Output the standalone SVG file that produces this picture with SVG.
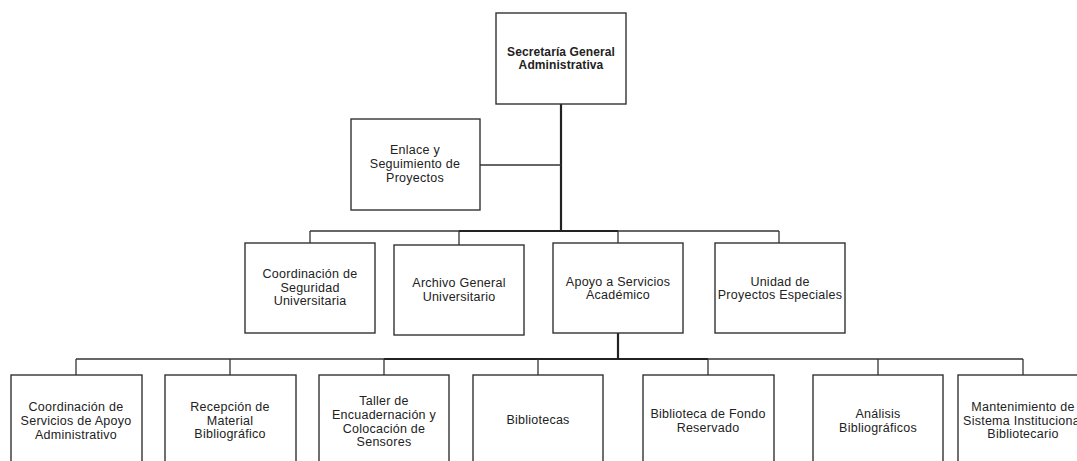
<svg xmlns="http://www.w3.org/2000/svg" width="1077" height="461" viewBox="0 0 1077 461">
<style>
.box{fill:#fff;stroke:#333;stroke-width:1.4}
.t{font-family:"Liberation Sans",Arial,sans-serif;font-size:12.5px;letter-spacing:0.25px;fill:#222;text-anchor:middle}
.b{font-weight:bold;font-size:12px;letter-spacing:0.1px}
.ln{stroke:#333;stroke-width:1.3;fill:none}
.tk{stroke:#222;stroke-width:2.2;fill:none}
</style>
<rect x="0" y="0" width="1077" height="461" fill="#fff"/>
<g id="connectors">
<line class="tk" x1="561" y1="104" x2="561" y2="231"/>
<line class="ln" x1="480" y1="165" x2="561" y2="165"/>
<line class="ln" x1="310" y1="231" x2="779" y2="231"/>
<line class="tk" x1="459" y1="231" x2="618" y2="231"/>
<line class="ln" x1="310" y1="231" x2="310" y2="243"/>
<line class="ln" x1="459" y1="231" x2="459" y2="245"/>
<line class="ln" x1="618" y1="231" x2="618" y2="243"/>
<line class="ln" x1="779" y1="231" x2="779" y2="243"/>
<line class="tk" x1="618" y1="333" x2="618" y2="359"/>
<line class="ln" x1="76" y1="359" x2="1023" y2="359"/>
<line class="tk" x1="384" y1="359" x2="708" y2="359"/>
<line class="ln" x1="76" y1="359" x2="76" y2="375"/>
<line class="ln" x1="230" y1="359" x2="230" y2="375"/>
<line class="ln" x1="384" y1="359" x2="384" y2="375"/>
<line class="ln" x1="538" y1="359" x2="538" y2="375"/>
<line class="ln" x1="708" y1="359" x2="708" y2="375"/>
<line class="ln" x1="878" y1="359" x2="878" y2="375"/>
<line class="ln" x1="1023" y1="359" x2="1023" y2="375"/>
</g>
<g id="secretaria">
<rect class="box" x="496" y="13" width="130" height="91"/>
<text class="t b" x="561" y="56">Secretaría General</text>
<text class="t b" x="561" y="69">Administrativa</text>
</g>
<g id="enlace">
<rect class="box" x="351" y="119" width="129" height="91"/>
<text class="t" x="415" y="154">Enlace y</text>
<text class="t" x="415" y="168">Seguimiento de</text>
<text class="t" x="415" y="182">Proyectos</text>
</g>
<g id="coord-seguridad">
<rect class="box" x="245" y="243" width="130" height="90"/>
<text class="t" x="310" y="278">Coordinación de</text>
<text class="t" x="310" y="291.5">Seguridad</text>
<text class="t" x="310" y="305">Universitaria</text>
</g>
<g id="archivo">
<rect class="box" x="394" y="245" width="130" height="90"/>
<text class="t" x="459" y="287">Archivo General</text>
<text class="t" x="459" y="301">Universitario</text>
</g>
<g id="apoyo">
<rect class="box" x="553" y="243" width="130" height="90"/>
<text class="t" x="618" y="286">Apoyo a Servicios</text>
<text class="t" x="618" y="299">Académico</text>
</g>
<g id="unidad">
<rect class="box" x="715" y="243" width="130" height="90"/>
<text class="t" x="780" y="286">Unidad de</text>
<text class="t" x="780" y="299">Proyectos Especiales</text>
</g>
<g id="coord-servicios">
<rect class="box" x="11" y="375" width="131" height="100"/>
<text class="t" x="76" y="411">Coordinación de</text>
<text class="t" x="76" y="425">Servicios de Apoyo</text>
<text class="t" x="76" y="439">Administrativo</text>
</g>
<g id="recepcion">
<rect class="box" x="165" y="375" width="131" height="100"/>
<text class="t" x="230" y="411">Recepción de</text>
<text class="t" x="230" y="425">Material</text>
<text class="t" x="230" y="438">Bibliográfico</text>
</g>
<g id="taller">
<rect class="box" x="319" y="375" width="130" height="100"/>
<text class="t" x="384" y="405">Taller de</text>
<text class="t" x="384" y="419">Encuadernación y</text>
<text class="t" x="384" y="433">Colocación de</text>
<text class="t" x="384" y="446">Sensores</text>
</g>
<g id="bibliotecas">
<rect class="box" x="473" y="375" width="130" height="100"/>
<text class="t" x="538" y="424">Bibliotecas</text>
</g>
<g id="fondo-reservado">
<rect class="box" x="643" y="375" width="131" height="100"/>
<text class="t" x="708" y="418">Biblioteca de Fondo</text>
<text class="t" x="708" y="432">Reservado</text>
</g>
<g id="analisis">
<rect class="box" x="813" y="375" width="130" height="100"/>
<text class="t" x="878" y="418">Análisis</text>
<text class="t" x="878" y="432">Bibliográficos</text>
</g>
<g id="mantenimiento">
<rect class="box" x="958" y="375" width="130" height="100"/>
<text class="t" x="1023" y="411">Mantenimiento de</text>
<text class="t" x="1023" y="425">Sistema Institucional</text>
<text class="t" x="1023" y="438">Bibliotecario</text>
</g>
</svg>
